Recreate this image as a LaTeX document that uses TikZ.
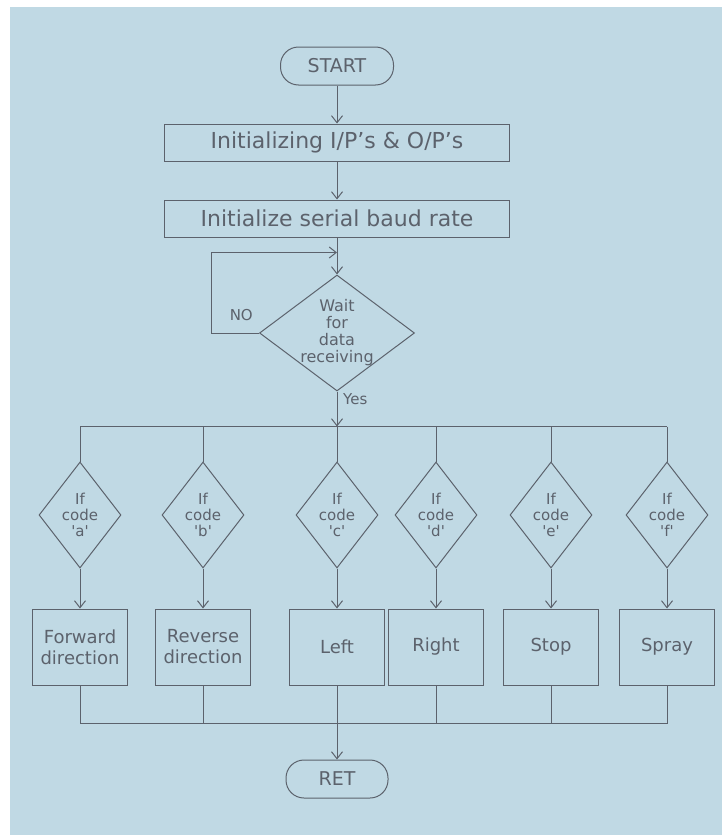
\documentclass[tikz,border=0pt]{standalone}
\usepackage{fontspec}
\setmainfont{DejaVu Sans}
\usepackage{xcolor}
\usepackage{tikz}
\usetikzlibrary{shapes.geometric, arrows.meta, positioning}

\definecolor{paper}{RGB}{192,217,228}
\definecolor{ink}{RGB}{92,98,108}

\begin{document}
\begin{tikzpicture}[
    x=1pt, y=-1pt,
    node distance=38pt and 20pt,
    every node/.style={text=ink},
    box/.style={rectangle, draw=ink, line width=1pt, text centered, minimum width=345pt, minimum height=37pt, font=\fontsize{22}{24}\selectfont},
    term/.style={rectangle, draw=ink, line width=1pt, rounded corners=18pt, minimum height=38pt, font=\fontsize{19}{22}\selectfont},
    decision/.style={diamond, draw=ink, line width=1pt, align=center, inner sep=0pt, minimum width=82pt, minimum height=106pt, font=\fontsize{15}{16}\selectfont},
    action/.style={rectangle, draw=ink, line width=1pt, align=center, minimum width=95pt, minimum height=76pt, font=\fontsize{18}{21}\selectfont},
    note/.style={font=\fontsize{15}{17}\selectfont, inner sep=0pt},
    wire/.style={draw=ink, line width=1pt},
    arrow/.style={wire, -{Straight Barb[length=7pt,width=11pt]}}
]

% Paper
\useasboundingbox (0,0) rectangle (722,835);
\fill[white] (0,0) rectangle (722,835);
\fill[paper] (10,7) rectangle (722,835);

% Nodes
\node (start) [term, minimum width=113pt] at (337,66) {START};
\node (init) [box, below=of start] {Initializing I/P's \& O/P's};
\node (baud) [box, below=of init] {Initialize serial baud rate};
\node (wait) [decision, below=37pt of baud, minimum width=155pt, minimum height=116pt, inner sep=-6pt, font=\fontsize{16}{17}\selectfont] {Wait\\for\\data\\receiving};
\coordinate [below=15pt of baud] (merge);
\coordinate [below=35pt of wait] (split);
\node (no) [note, above left=12pt and 6pt of wait.west] {NO};
\node (yes) [note, below right=2pt and 6pt of wait.south] {Yes};

\node (ca) [decision] at (80,515) {If\\code\\\textquotesingle a\textquotesingle};
\node (cb) [decision] at (203,515) {If\\code\\\textquotesingle b\textquotesingle};
\node (cc) [decision] at (337,515) {If\\code\\\textquotesingle c\textquotesingle};
\node (cd) [decision] at (436,515) {If\\code\\\textquotesingle d\textquotesingle};
\node (ce) [decision] at (551,515) {If\\code\\\textquotesingle e\textquotesingle};
\node (cf) [decision] at (667,515) {If\\code\\\textquotesingle f\textquotesingle};

\node (fwd) [action, below=40pt of ca] {Forward\\direction};
\node (rev) [action, below=40pt of cb] {Reverse\\direction};
\node (lft) [action, below=40pt of cc] {Left};
\node (rgt) [action, below=40pt of cd] {Right};
\node (stp) [action, below=40pt of ce] {Stop};
\node (spr) [action, below=40pt of cf] {Spray};
\coordinate [below=38pt of lft] (join);
\node (ret) [term, minimum width=102pt, below=74pt of lft] {RET};

% Connections
\draw [arrow] (start) -- (init);
\draw [arrow] (init) -- (baud);
\draw [wire] (baud) -- (merge);
\draw [arrow] (merge) -- (wait);
\draw [arrow] (wait.west) -- ++(-48,0) |- (merge);
\draw [arrow] (wait) -- (split);
\draw [wire] (ca.north |- split) -- (cf.north |- split);
\draw [wire] (ca.north |- split) -- (ca.north);
\draw [wire] (cb.north |- split) -- (cb.north);
\draw [wire] (split) -- (cc.north);
\draw [wire] (cd.north |- split) -- (cd.north);
\draw [wire] (ce.north |- split) -- (ce.north);
\draw [wire] (cf.north |- split) -- (cf.north);
\draw [arrow] (ca) -- (fwd);
\draw [arrow] (cb) -- (rev);
\draw [arrow] (cc) -- (lft);
\draw [arrow] (cd) -- (rgt);
\draw [arrow] (ce) -- (stp);
\draw [arrow] (cf) -- (spr);
\draw [wire] (fwd) -- (fwd.south |- join);
\draw [wire] (rev) -- (rev.south |- join);
\draw [wire] (rgt) -- (rgt.south |- join);
\draw [wire] (stp) -- (stp.south |- join);
\draw [wire] (spr) -- (spr.south |- join);
\draw [wire] (fwd.south |- join) -- (spr.south |- join);
\draw [arrow] (lft) -- (ret);

\end{tikzpicture}
\end{document}
